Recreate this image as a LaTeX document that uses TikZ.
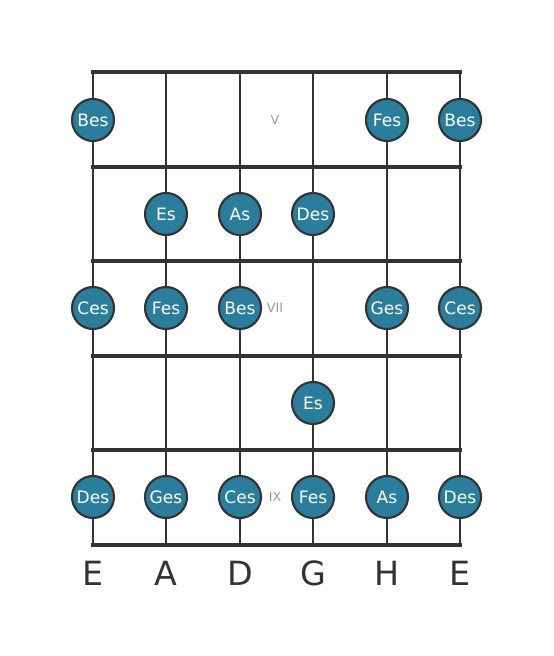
\documentclass[tikz,border=0pt]{standalone}
\usepackage{fontspec}
\setmainfont{DejaVu Sans}
\usepackage{tikz}
\usetikzlibrary{calc}
\definecolor{notefill}{HTML}{2A7E9C}
\definecolor{wire}{HTML}{333333}
\tikzset{
  fretline/.style={line width=3.2pt,color=wire},
  stringline/.style={line width=2.2pt,color=wire},
  notedot/.style={circle,draw=wire,line width=1.6pt,fill=notefill,minimum size=31.5pt,inner sep=0pt,text=white,font=\fontsize{12.8}{12.8}\selectfont},
  fretno/.style={text=gray!80,font=\fontsize{9.5}{9.5}\selectfont},
  tuning/.style={text=wire,font=\fontsize{25}{25}\selectfont}
}
\begin{document}
\begin{tikzpicture}[x=0.75pt,y=-0.75pt]
\useasboundingbox (0,0) rectangle (553,656);
%strings
\foreach \s/\x in {1/93,2/166,3/240,4/313,5/387,6/460}
  \draw[stringline](\x,72)--(\x,545);
%frets
\foreach \y in {72,167,261,356,450,545}
  \draw[fretline](91,\y)--(462,\y);
%fret numbers
\node[fretno] (fV) at(275,120){V};
\node[fretno] (fVII) at(275,308){VII};
\node[fretno] (fIX) at(275,497){IX};
%notes
\node[notedot] (n1a) at(93,120){Bes};
\node[notedot] (n1e) at(387,120){Fes};
\node[notedot] (n1f) at(460,120){Bes};
\node[notedot] (n2b) at(166,214){Es};
\node[notedot] (n2c) at(240,214){As};
\node[notedot] (n2d) at(313,214){Des};
\node[notedot] (n3a) at(93,308){Ces};
\node[notedot] (n3b) at(166,308){Fes};
\node[notedot] (n3c) at(240,308){Bes};
\node[notedot] (n3e) at(387,308){Ges};
\node[notedot] (n3f) at(460,308){Ces};
\node[notedot] (n4d) at(313,403){Es};
\node[notedot] (n5a) at(93,497){Des};
\node[notedot] (n5b) at(166,497){Ges};
\node[notedot] (n5c) at(240,497){Ces};
\node[notedot] (n5d) at(313,497){Fes};
\node[notedot] (n5e) at(387,497){As};
\node[notedot] (n5f) at(460,497){Des};
%tuning
\foreach \x/\t [count=\i] in {93/E,166/A,240/D,313/G,387/H,460/E}
  \node[tuning] (t\i) at(\x,573){\t};
\end{tikzpicture}
\end{document}
